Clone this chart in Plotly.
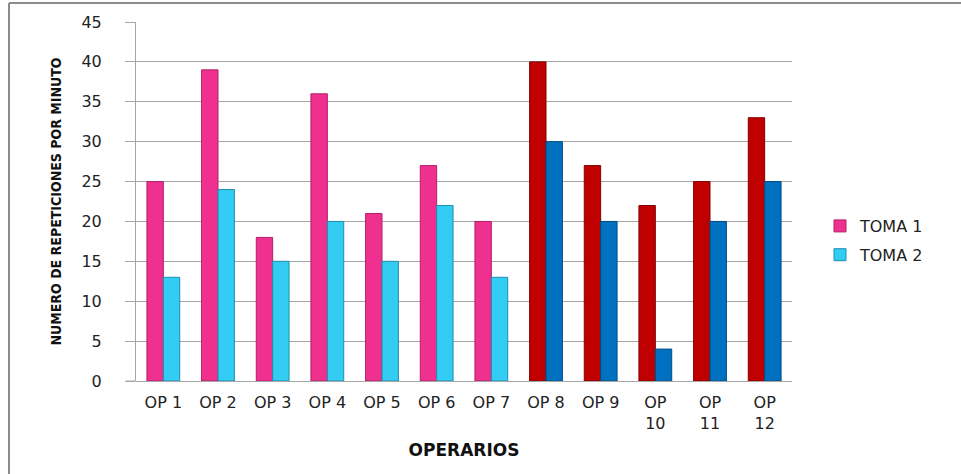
import plotly.graph_objects as go

# Operators and repetitions per minute for each take
operarios = ["OP 1", "OP 2", "OP 3", "OP 4", "OP 5", "OP 6", "OP 7",
             "OP 8", "OP 9", "OP<br>10", "OP<br>11", "OP<br>12"]
toma1 = [25, 39, 18, 36, 21, 27, 20, 40, 27, 22, 25, 33]
toma2 = [13, 24, 15, 20, 15, 22, 13, 30, 20, 4, 20, 25]

# First seven operators in pink/cyan, the rest in dark red/blue
colores_toma1 = ["#F0308F"] * 7 + ["#C00000"] * 5
bordes_toma1 = ["#B0206A"] * 7 + ["#800000"] * 5
colores_toma2 = ["#33CCF2"] * 7 + ["#0070C0"] * 5
bordes_toma2 = ["#1F8FAF"] * 7 + ["#004C85"] * 5

fig = go.Figure()
fig.add_trace(go.Bar(
    x=operarios, y=toma1, name="TOMA 1", legendgroup="t1",
    marker=dict(color=colores_toma1, line=dict(color=bordes_toma1, width=1)),
))
fig.add_trace(go.Bar(
    x=operarios, y=toma2, name="TOMA 2", legendgroup="t2",
    marker=dict(color=colores_toma2, line=dict(color=bordes_toma2, width=1)),
))

L, R, T, B = 136, 169, 22, 93
W, H = 961, 474
pw, ph = W - L - R, H - T - B

def px_x(x):
    return (x - L) / pw

def px_y(y):
    return (H - B - y) / ph

grid = "#A6A6A6"
fig.update_layout(
    width=W, height=H,
    margin=dict(l=L, r=R, t=T, b=B),
    paper_bgcolor="white", plot_bgcolor="white",
    barmode="group", bargap=0.4, bargroupgap=0,
    font=dict(family="DejaVu Sans", size=16, color="#222222"),
    showlegend=True,
    legend=dict(
        x=px_x(820), y=px_y(209), xanchor="left", yanchor="top",
        font=dict(family="DejaVu Sans", size=16, color="#222222"),
        traceorder="grouped", tracegroupgap=5,
        bgcolor="rgba(0,0,0,0)",
    ),
    xaxis=dict(
        showgrid=False, showline=False, ticks="",
        ticklabelstandoff=10,
        tickfont=dict(family="DejaVu Sans", size=16, color="#222222"),
        title=dict(text="<b>OPERARIOS</b>", standoff=12,
                   font=dict(family="DejaVu Sans", size=17, color="#111111")),
    ),
    yaxis=dict(
        range=[0, 45], dtick=5, showgrid=True, gridcolor=grid, gridwidth=1,
        zeroline=True, zerolinecolor=grid, zerolinewidth=1,
        showline=True, linecolor=grid, linewidth=1,
        ticks="outside", ticklen=10, tickcolor=grid,
        ticklabelstandoff=20,
        tickfont=dict(family="DejaVu Sans", size=16, color="#222222"),
        title=dict(text="<b>NUMERO DE REPETICIONES POR MINUTO</b>", standoff=16,
                   font=dict(family="DejaVu Sans Condensed", size=14, color="#111111")),
    ),
    shapes=[
        dict(type="line", xref="paper", yref="paper",
             x0=px_x(9), x1=px_x(961), y0=px_y(3), y1=px_y(3),
             line=dict(color="#8C8C8C", width=2)),
        dict(type="line", xref="paper", yref="paper",
             x0=px_x(9), x1=px_x(9), y0=px_y(3), y1=px_y(474),
             line=dict(color="#8C8C8C", width=2)),
        dict(type="line", xref="paper", yref="paper",
             x0=px_x(126), x1=0, y0=0, y1=0,
             line=dict(color=grid, width=1)),
    ],
)

fig.write_html("out.html")
